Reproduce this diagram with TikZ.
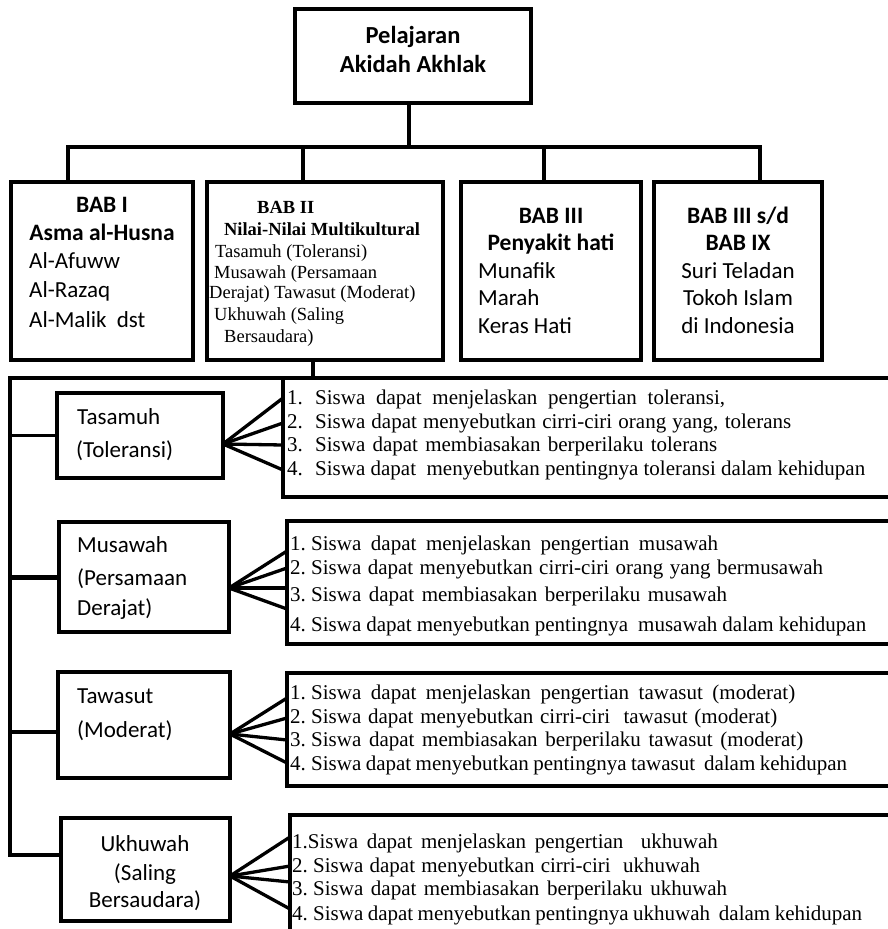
\documentclass[tikz,border=0pt]{standalone}
\usepackage{fontspec}
\setmainfont{Liberation Serif}
\newfontfamily\calfont{Carlito}

\begin{document}
\begin{tikzpicture}[x=1pt,y=-1pt,
    box/.style={draw,line width=3.3pt,inner sep=0pt,outer sep=0pt,anchor=north west},
    link/.style={line width=3.3pt},
    txt/.style={inner sep=0pt,anchor=base west},
    ctxt/.style={inner sep=0pt,anchor=base},
    cal/.style={font=\calfont\fontsize{23}{27}\selectfont},
    calb/.style={font=\calfont\bfseries\fontsize{23.5}{27}\selectfont},
    ser/.style={font=\fontsize{21}{24}\selectfont},
    sers/.style={font=\fontsize{18.5}{22}\selectfont},
    serb/.style={font=\bfseries\fontsize{18.5}{22}\selectfont}]

  \useasboundingbox (0,0) rectangle (888,929);
  \clip (0,0) rectangle (888,929);

  % ---- boxes ----
  \node[box,minimum width=236pt,minimum height=94pt]  (top)  at (295,9) {};
  \node[box,minimum width=182pt,minimum height=178pt] (bab1) at (11,182) {};
  \node[box,minimum width=236pt,minimum height=178pt] (bab2) at (207,182) {};
  \node[box,minimum width=180pt,minimum height=178pt] (bab3) at (461,182) {};
  \node[box,minimum width=168pt,minimum height=178pt] (bab4) at (654,182) {};

  \node[box,minimum width=166pt,minimum height=85pt]  (tas) at (57,393) {};
  \node[box,minimum width=170pt,minimum height=110pt] (mus) at (59,522) {};
  \node[box,minimum width=172pt,minimum height=106pt] (taw) at (58,672) {};
  \node[box,minimum width=169pt,minimum height=103pt] (ukh) at (61,818) {};

  \node[box,minimum width=620pt,minimum height=119pt] (tasL) at (283,378) {};
  \node[box,minimum width=615pt,minimum height=123pt] (musL) at (287,521) {};
  \node[box,minimum width=615pt,minimum height=113pt] (tawL) at (287,673) {};
  \node[box,minimum width=612pt,minimum height=140pt] (ukhL) at (290,815) {};

  % ---- top tree ----
  \foreach \x/\b in {68/bab1,303/bab2,544/bab3,760/bab4}
    \coordinate (d-\b) at (\x,147);
  \draw[link] ([xshift=-4pt]top.south) -- ([xshift=-4pt]top.south |- d-bab1);
  \draw[link] (d-bab1 |- bab1.north) -- (d-bab1) -- (d-bab4) -- (d-bab4 |- bab4.north);
  \draw[link] (d-bab2) -- (d-bab2 |- bab2.north);
  \draw[link] (d-bab3) -- (d-bab3 |- bab3.north);

  % ---- spine on the left ----
  \coordinate (hub) at (313,378);
  \coordinate (spT) at (10,378);
  \coordinate (spB) at (10,855);
  \coordinate (tawJ) at (10,732);
  \draw[link] (hub |- bab2.south) -- (hub);
  \draw[link] (tasL.north west) -- (spT) -- (spB) -- (spB -| ukh.west);
  \draw[link] (tas.west -| spT) -- (tas.west);
  \draw[line width=5pt] (mus.west -| spT) -- (mus.west);
  \draw[link] (tawJ) -- (tawJ -| taw.west);

  % ---- fans ----
  \coordinate (tasF) at (223,444);
  \coordinate (musF) at (229,588);
  \coordinate (tawF) at (230,734);
  \coordinate (ukhF) at (230,876);
  \foreach \y in {398,423,445,470}
    \draw[link] (tasF) -- (tasL.west |- 0,\y);
  \foreach \y in {551,568,588,609}
    \draw[link] (musF) -- (musL.west |- 0,\y);
  \foreach \y in {698,718,740,763}
    \draw[link] (tawF) -- (tawL.west |- 0,\y);
  \foreach \y in {837,866,882,909}
    \draw[link] (ukhF) -- (ukhL.west |- 0,\y);

  % ---- title ----
  \node[ctxt,font=\calfont\bfseries\fontsize{24.5}{28}\selectfont] (t1) at (413,43) {Pelajaran};
  \node[ctxt,font=\calfont\bfseries\fontsize{24.5}{28}\selectfont] (t2) at (413,72) {Akidah Akhlak};

  % ---- BAB I ----
  \node[ctxt,calb] (b1a) at (102,212) {BAB I};
  \node[ctxt,calb] (b1b) at (102,240) {Asma al-Husna};
  \node[txt,cal] (b1c) at (29,268) {Al-Afuww};
  \node[txt,cal] (b1d) at (29,297) {Al-Razaq};
  \node[txt,cal] (b1e) at (29,327) {Al-Malik\ \ dst};

  % ---- BAB II ----
  \node[txt,serb] (b2a) at (257,213) {BAB II};
  \node[ctxt,serb] (b2b) at (322,235) {Nilai-Nilai Multikultural};
  \node[txt,sers] (b2c) at (215,257) {Tasamuh (Toleransi)};
  \node[txt,sers] (b2d) at (214,278) {Musawah (Persamaan};
  \node[txt,sers] (b2e) at (209,298) {Derajat) Tawasut (Moderat)};
  \node[txt,sers] (b2f) at (214,320) {Ukhuwah (Saling};
  \node[txt,sers] (b2g) at (224,342) {Bersaudara)};

  % ---- BAB III ----
  \node[ctxt,calb] (b3a) at (551,223) {BAB III};
  \node[ctxt,calb] (b3b) at (551,250) {Penyakit hati};
  \node[txt,cal] (b3c) at (478,278) {Munafik};
  \node[txt,cal] (b3d) at (478,305) {Marah};
  \node[txt,cal] (b3e) at (478,333) {Keras Hati};

  % ---- BAB III s/d BAB IX ----
  \node[ctxt,calb] (b4a) at (738,223) {BAB III s/d};
  \node[ctxt,calb] (b4b) at (738,250) {BAB IX};
  \node[ctxt,cal] (b4c) at (738,278) {Suri Teladan};
  \node[ctxt,cal] (b4d) at (738,305) {Tokoh Islam};
  \node[ctxt,cal] (b4e) at (738,333) {di Indonesia};

  % ---- left boxes ----
  \node[txt,cal] (tas1) at (77,424) {Tasamuh};
  \node[txt,cal] (tas2) at (76,457) {(Toleransi)};
  \node[txt,cal] (mus1) at (77,552) {Musawah};
  \node[txt,cal] (mus2) at (77,585) {(Persamaan};
  \node[txt,cal] (mus3) at (77,615) {Derajat)};
  \node[txt,cal] (taw1) at (77,703) {Tawasut};
  \node[txt,cal] (taw2) at (77,737) {(Moderat)};
  \node[ctxt,cal] (ukh1) at (145,851) {Ukhuwah};
  \node[ctxt,cal] (ukh2) at (145,880) {(Saling};
  \node[ctxt,cal] (ukh3) at (145,907) {Bersaudara)};

  % ---- Tasamuh list (number, then spread line) ----
  \foreach \n/\y/\w/\t in {1/404/410/{Siswa dapat menjelaskan pengertian toleransi,},
                          2/428/476/{Siswa dapat menyebutkan cirri-ciri orang yang, tolerans},
                          3/451/402/{Siswa dapat membiasakan berperilaku tolerans},
                          4/475/550/{Siswa dapat\ \ menyebutkan pentingnya toleransi dalam kehidupan}}
    \node[txt,ser] (tasL-\n) at (287,\y) {\makebox[28pt][l]{\n.}\makebox[\w pt][s]{\t}};

  % ---- Musawah list ----
  \foreach \n/\y/\w/\t in {1/550/407/{Siswa dapat menjelaskan pengertian musawah},
                          2/574/512/{Siswa dapat menyebutkan cirri-ciri orang yang bermusawah},
                          3/601/416/{Siswa dapat membiasakan berperilaku musawah}}
    \node[txt,ser] (musL-\n) at (290,\y) {\n.\ \makebox[\w pt][s]{\t}};
  \begin{scope}
    \clip (280,600) rectangle (900,635);
    \node[txt,ser] (musL-4) at (290,631)
      {4.\ \makebox[555pt][s]{Siswa dapat menyebutkan pentingnya\ \ musawah dalam kehidupan}};
  \end{scope}

  % ---- Tawasut list ----
  \foreach \n/\y/\w/\t in {1/699/484/{Siswa dapat menjelaskan pengertian tawasut (moderat)},
                          2/723/466/{Siswa dapat menyebutkan cirri-ciri\ \ tawasut (moderat)},
                          3/746/492/{Siswa dapat membiasakan berperilaku tawasut (moderat)},
                          4/770/536/{Siswa dapat menyebutkan pentingnya tawasut\ \ dalam kehidupan}}
    \node[txt,ser] (tawL-\n) at (290,\y) {\n.\ \makebox[\w pt][s]{\t}};

  % ---- Ukhuwah list ----
  \node[txt,ser] (ukhL-1) at (292,848)
    {1.\makebox[410pt][s]{Siswa dapat menjelaskan pengertian\ \ ukhuwah}};
  \foreach \n/\y/\w/\t in {2/872/387/{Siswa dapat menyebutkan cirri-ciri\ \ ukhuwah},
                          3/895/414/{Siswa dapat membiasakan berperilaku ukhuwah}}
    \node[txt,ser] (ukhL-\n) at (292,\y) {\n.\ \makebox[\w pt][s]{\t}};
  \begin{scope}
    \clip (280,900) rectangle (900,924);
    \node[txt,ser] (ukhL-4) at (292,920)
      {4.\ \makebox[549pt][s]{Siswa dapat menyebutkan pentingnya ukhuwah\ \ dalam kehidupan}};
  \end{scope}

\end{tikzpicture}
\end{document}
